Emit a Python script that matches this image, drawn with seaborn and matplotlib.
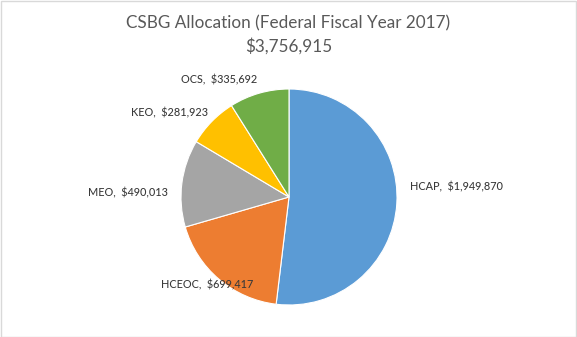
import matplotlib
matplotlib.use("Agg")
import matplotlib.pyplot as plt
import seaborn as sns
from matplotlib.patches import Rectangle

categories = ["HCAP", "HCEOC", "MEO", "KEO", "OCS"]
values = [1949870, 699417, 490013, 281923, 335692]
title_line1 = "CSBG Allocation (Federal Fiscal Year 2017)"
title_line2 = "$3,756,915"

colors = ["#5B9BD5", "#ED7D31", "#A5A5A5", "#FFC000", "#70AD47"]

sns.set_theme(style="white")
plt.rcParams['font.family'] = ['Lato', 'DejaVu Sans']

W, H = 577, 337
fig = plt.figure(figsize=(W / 100, H / 100), dpi=100)
ax = fig.add_axes([0, 0, 1, 1])

R = 108.0
cx, cy = 289.0, 140.0  # pixel centre from bottom-left
ax.pie(values, colors=colors, startangle=90, counterclock=False, radius=1,
       wedgeprops=dict(edgecolor="white", linewidth=0.8))
ax.set_xlim(-cx / R, (W - cx) / R)
ax.set_ylim(-cy / R, (H - cy) / R)
ax.set_aspect('auto')
ax.axis('off')

# label anchor positions (data units) and alignment
label_pos = [(1.12, 0.093, 'left'), (-0.333, -0.815, 'right'), (-1.12, 0.037, 'right'),
             (-0.75, 0.78, 'right'), (-0.296, 1.083, 'right')]
for cat, val, (x, y, ha) in zip(categories, values, label_pos):
    ax.text(x, y, f"{cat},  ${val:,.0f}", ha=ha, va='center', fontsize=7.8,
            color="#3A3A3A", fontweight='medium')

fig.text(0.5, 1 - 23 / H, title_line1, ha='center', va='center', fontsize=12.3, color="#595959")
fig.text(0.5, 1 - 46 / H, title_line2, ha='center', va='center', fontsize=12.3, color="#595959")

fig.patches.append(Rectangle((0.5 / W, 0.5 / H), 1 - 1.5 / W, 1 - 1.5 / H, transform=fig.transFigure,
                             fill=False, edgecolor="#D9D9D9", linewidth=1))

fig.savefig("out.png", dpi=100, facecolor="white")
